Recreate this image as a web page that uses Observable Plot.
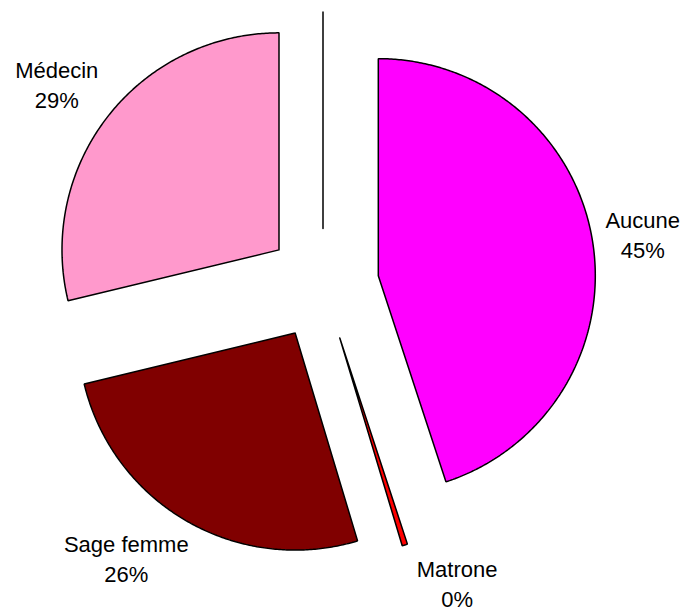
<!DOCTYPE html>
<html><head><meta charset="utf-8">
<script src="https://cdn.jsdelivr.net/npm/d3@7"></script>
<script src="https://cdn.jsdelivr.net/npm/@observablehq/plot@0.6"></script>
<style>html,body{margin:0;padding:0;background:#fff}</style>
</head><body><div id="chart"></div>
<script>
// Data (percent shares, clockwise from 12 o'clock)
const categories = ["Aucune", "Matrone", "Sage femme", "Médecin", ""];
const values = [45.0, 0.4, 25.9, 28.8, 0];
const colors = ["#FF00FF", "#FF0000", "#800000", "#FF99CC", "#000000"];

// Layout
const W = 687, H = 610;
const CX = 322.5, CY = 284, R = 217, EXPLODE = 56, LABEL_R = R + 13;
const FONT = "'Liberation Sans', Arial, sans-serif", FS = 22;

const ctx = document.createElement("canvas").getContext("2d");
ctx.font = `${FS}px ${FONT}`;
const textWidth = s => ctx.measureText(s).width;

const total = d3.sum(values);
const arcs = d3.pie().sort(null).value(d => d)(values);

const wedgePts = [];
const labels = [];
arcs.forEach((a, i) => {
  const mid = (a.startAngle + a.endAngle) / 2;
  const ox = CX + EXPLODE * Math.sin(mid);
  const oy = CY - EXPLODE * Math.cos(mid);
  wedgePts.push({slice: categories[i], x: ox, y: oy});
  const n = Math.max(2, Math.ceil((a.endAngle - a.startAngle) / (Math.PI / 360)));
  for (let k = 0; k <= n; k++) {
    const t = a.startAngle + (a.endAngle - a.startAngle) * k / n;
    wedgePts.push({slice: categories[i], x: ox + R * Math.sin(t), y: oy - R * Math.cos(t)});
  }
  wedgePts.push({slice: categories[i], x: ox, y: oy});
  if (categories[i] !== "") {
    const s = Math.sin(mid), c = Math.cos(mid);
    const lines = [categories[i], Math.round(values[i] / total * 100) + "%"];
    const w = d3.max(lines, textWidth);
    const side = s > 0.05 ? 1 : s < -0.05 ? -1 : 0;
    const lineAnchor = c > 0.5 ? "bottom" : c < -0.5 ? "top" : "middle";
    const adj = lineAnchor === "top" ? -2 : lineAnchor === "middle" ? -6 : 0;
    const xadj = lineAnchor === "top" ? 8 : 0;
    labels.push({
      text: lines.join("\n"),
      x: ox + LABEL_R * s + side * w / 2 + xadj,
      y: oy - LABEL_R * c + adj,
      lineAnchor
    });
  }
});

const groups = d3.groups(labels, d => d.lineAnchor);
const textMarks = groups.map(([key, rows]) => Plot.text(rows, {
  x: "x", y: "y", text: "text",
  textAnchor: "middle", lineAnchor: key,
  lineHeight: 1.36, fontSize: FS, fill: "black",
  fontFamily: FONT
}));

const chart = Plot.plot({
  width: W, height: H, margin: 0,
  x: {domain: [0, W], range: [0, W], axis: null},
  y: {domain: [0, H], range: [0, H], axis: null},
  color: {domain: categories, range: colors},
  style: {background: "white", fontFamily: FONT, overflow: "visible"},
  marks: [
    Plot.line(wedgePts, {x: "x", y: "y", z: "slice", fill: "slice", stroke: "black",
      strokeWidth: 1.5, strokeLinejoin: "miter", curve: "linear"}),
    ...textMarks
  ]
});
document.getElementById("chart").appendChild(chart);
</script>
</body></html>
